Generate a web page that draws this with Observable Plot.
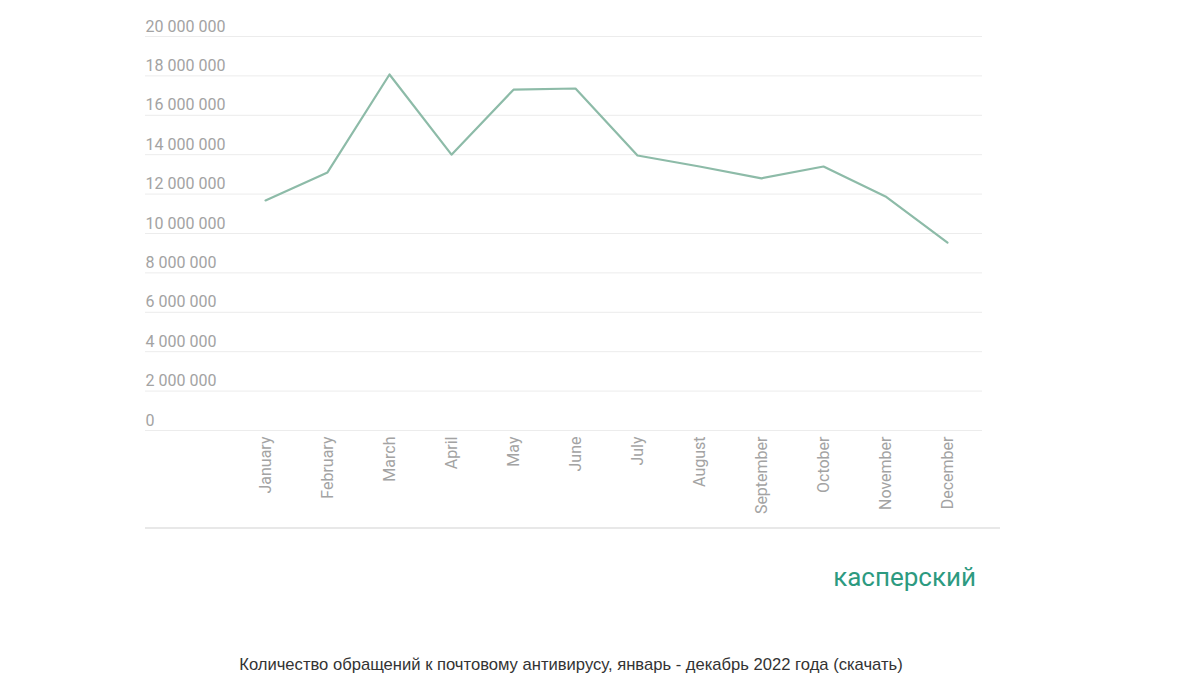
<!DOCTYPE html>
<html>
<head>
<meta charset="utf-8">
<script src="https://cdn.jsdelivr.net/npm/d3@7"></script>
<script src="https://cdn.jsdelivr.net/npm/@observablehq/plot@0.6"></script>
<style>
  html, body { margin: 0; padding: 0; background: #fff; }
  #wrap { position: relative; width: 1200px; height: 692px; overflow: hidden; }
  #chart { position: absolute; left: 0; top: 0; }
  #baseline { position: absolute; left: 145px; top: 527px; width: 855px; height: 2px; background: #e8e8e8; }
  #brand { position: absolute; right: 224px; top: 562px; font-family: Roboto, sans-serif; font-size: 26px; line-height: 30px; color: #2d9a80; }
  #caption { position: absolute; left: 0; width: 1142px; top: 655px; text-align: center; font-family: "Liberation Sans", Arial, sans-serif; font-size: 16.6px; line-height: 20px; color: #333; }
</style>
</head>
<body>
<div id="wrap">
  <div id="chart"></div>
  <div id="baseline"></div>
  <div id="brand">касперский</div>
  <div id="caption">Количество обращений к почтовому антивирусу, январь - декабрь 2022 года (скачать)</div>
</div>
<script>
const months = ["January", "February", "March", "April", "May", "June", "July", "August", "September", "October", "November", "December"];
const values = [11680000, 13100000, 18070000, 14000000, 17300000, 17360000, 13960000, 13400000, 12800000, 13400000, 11880000, 9540000];
const yTicks = [0, 2000000, 4000000, 6000000, 8000000, 10000000, 12000000, 14000000, 16000000, 18000000, 20000000];

const data = months.map((m, i) => ({month: m, value: values[i]}));
const fmt = d => d3.format(",")(d).replace(/,/g, " ");

const chart = Plot.plot({
  width: 1200,
  height: 528,
  marginLeft: 145,
  marginRight: 218,
  marginTop: 36,
  marginBottom: 98,
  style: {fontFamily: "Roboto, sans-serif", background: "transparent"},
  x: {type: "point", domain: months, range: [265, 947], padding: 0, axis: null},
  y: {domain: [0, 20000000], range: [430, 36], axis: null},
  marks: [
    Plot.ruleY(yTicks, {y: d => d, stroke: "#ececec", strokeWidth: 1}),
    Plot.text(yTicks, {y: d => d, text: fmt, frameAnchor: "left", textAnchor: "start", lineAnchor: "bottom", dy: -5, fill: "#a3a3a3", fontSize: 16}),
    Plot.text(months, {x: d => d, y: 0, text: d => d, rotate: -90, textAnchor: "end", lineAnchor: "middle", dy: 6, fill: "#a3a3a3", fontSize: 16}),
    Plot.line(data, {x: "month", y: "value", stroke: "#8dbba8", strokeWidth: 2.2})
  ]
});
document.getElementById("chart").appendChild(chart);
</script>
</body>
</html>
